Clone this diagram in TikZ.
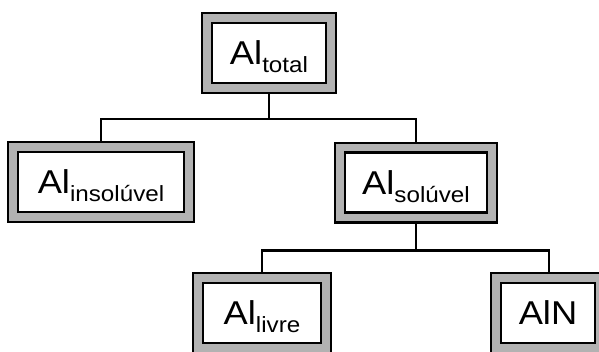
\documentclass[tikz,border=0pt]{standalone}
\usepackage{fontspec}
\setmainfont{Liberation Sans}
\usetikzlibrary{calc}
% element name with a lowered subscript
\newcommand\species[2]{\scalebox{1.1}[1]{\fontsize{33}{33}\selectfont #1\raisebox{-8pt}{\fontsize{22}{22}\selectfont #2}}}
\tikzset{
  framebox/.style={draw=black, line width=2.4pt, fill=white, inner sep=0pt,
    outer sep=11pt,
    preaction={draw=black, line width=22pt},
    preaction={draw=black!30, line width=17.5pt},
    minimum height=60pt, text height=23pt, text depth=0pt},
  link/.style={draw=black, line width=2.6pt}
}
\begin{document}
\begin{tikzpicture}[x=1pt,y=-1pt]
  \useasboundingbox (0,0) rectangle (599,351);
  \clip (0,0) rectangle (599,351);
  \fill[white] (0,0) rectangle (599,351);

  \node[framebox, minimum width=114pt] (total) at (269,53) {\species{Al}{total}};
  \node[framebox, minimum width=166pt] (insol) at (101,182) {\species{Al}{insolúvel}};
  \node[framebox, minimum width=142pt] (sol)   at (416,182.5) {\species{Al}{solúvel}};
  \node[framebox, minimum width=118pt] (livre) at (262,313) {\species{Al}{livre}};
  \node[framebox, minimum width=94pt]  (aln)   at (548,313) {\species{AlN}{}};

  \draw[link] (total.south) -- ++(0,25) coordinate (j1) -| (insol.north);
  \draw[link] (j1) -| (sol.north);
  \draw[link] (sol.south) -- ++(0,27) coordinate (j2) -| (livre.north);
  \draw[link] (j2) -| ([xshift=1pt]aln.north);
\end{tikzpicture}
\end{document}
